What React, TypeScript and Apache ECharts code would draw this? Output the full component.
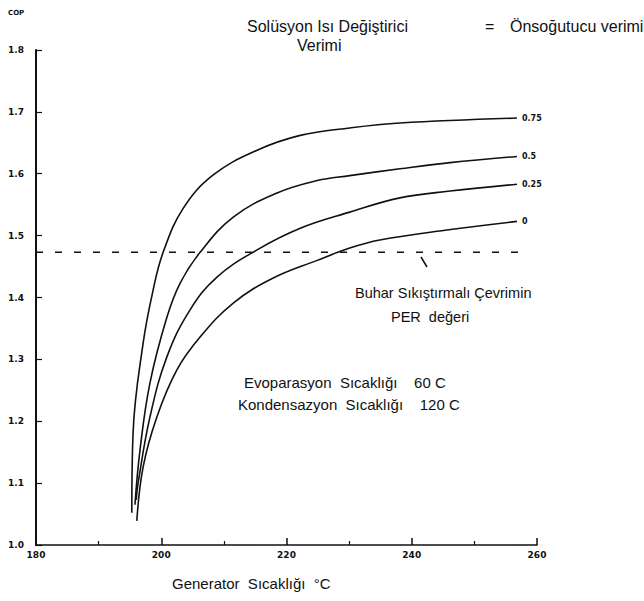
import React, { useEffect, useRef } from "react";
import * as echarts from "echarts";

// Generator temperature (°C) and PER values
const curveNames = ["0.75", "0.5", "0.25", "0"];

const curve075X = [195.3, 195.5, 197.1, 198.7, 200.3, 203.5, 208.3, 215.3, 222.2, 230.1, 238.1, 256.8];
const curve075Y = [1.052, 1.181, 1.326, 1.412, 1.473, 1.544, 1.598, 1.638, 1.662, 1.674, 1.682, 1.690];

const curve05X = [195.8, 196.6, 198.2, 200.9, 203.0, 206.2, 211.5, 218.5, 224.9, 230.1, 238.1, 246.1, 256.8];
const curve05Y = [1.065, 1.153, 1.262, 1.368, 1.423, 1.473, 1.530, 1.569, 1.589, 1.597, 1.608, 1.618, 1.628];

const curve025X = [196.0, 196.3, 198.2, 200.9, 204.6, 208.9, 215.3, 222.2, 230.1, 238.1, 246.1, 256.8];
const curve025Y = [1.073, 1.100, 1.207, 1.304, 1.380, 1.433, 1.477, 1.512, 1.538, 1.561, 1.572, 1.583];

const curve0X = [196.1, 197.1, 199.3, 202.5, 206.2, 211.5, 217.8, 224.9, 230.1, 234.9, 245.6, 256.8];
const curve0Y = [1.039, 1.126, 1.207, 1.283, 1.336, 1.391, 1.431, 1.460, 1.480, 1.493, 1.509, 1.523];

// Vapour compression cycle PER value (dashed reference)
const perLineX = [180, 258];
const perValue = 1.473;

const xMin = 180;
const xMax = 260;
const xInterval = 20;
const yMin = 1.0;
const yMax = 1.8;
const yInterval = 0.1;

const zip = (xs: number[], ys: number[]) => xs.map((x, i) => [x, ys[i]]);

export default function App() {
  const ref = useRef<HTMLDivElement>(null);

  useEffect(() => {
    if (!ref.current) return;
    const chart = echarts.init(ref.current, null, { renderer: "svg" });
    const ink = "#111";
    const tickFont = {
      color: ink,
      fontFamily: "DejaVu Sans",
      fontSize: 9,
      fontWeight: "bold" as const,
    };
    const curves = [
      zip(curve075X, curve075Y),
      zip(curve05X, curve05Y),
      zip(curve025X, curve025Y),
      zip(curve0X, curve0Y),
    ];
    const textFont = "Liberation Sans";
    chart.setOption({
      animation: false,
      backgroundColor: "#fff",
      grid: { left: 36, right: 107, top: 50, bottom: 56, containLabel: false },
      xAxis: {
        type: "value",
        min: xMin,
        max: xMax,
        interval: xInterval,
        axisLine: { show: true, onZero: false, lineStyle: { color: ink, width: 1.5 } },
        axisTick: { show: true, inside: true, length: 7, lineStyle: { color: ink, width: 1.5 } },
        minorTick: { show: true, splitNumber: 2, length: 4, lineStyle: { color: ink, width: 1.2 } },
        splitLine: { show: false },
        axisLabel: { ...tickFont, margin: 5 },
      },
      yAxis: {
        type: "value",
        min: yMin,
        max: yMax,
        interval: yInterval,
        axisLine: { show: true, onZero: false, lineStyle: { color: ink, width: 2 } },
        axisTick: { show: true, inside: true, length: 6, lineStyle: { color: ink, width: 1.2 } },
        splitLine: { show: false },
        axisLabel: { ...tickFont, margin: 12, formatter: (v: number) => v.toFixed(1) },
      },
      series: [
        ...curves.map((data, i) => ({
          type: "line",
          name: curveNames[i],
          data,
          smooth: 0.4,
          symbol: "none",
          lineStyle: { color: ink, width: 1.6 },
          endLabel: {
            show: true,
            formatter: curveNames[i],
            distance: 5,
            color: ink,
            fontFamily: "DejaVu Sans",
            fontSize: 8,
            fontWeight: "bold",
          },
        })),
        {
          type: "line",
          name: "PER",
          data: perLineX.map((x) => [x, perValue]),
          symbol: "none",
          lineStyle: { color: ink, width: 1.5, type: [7, 12] },
        },
      ],
      graphic: [
        { type: "text", left: 8, top: 9, style: { text: "COP", fill: ink, font: "bold 7px DejaVu Sans" } },
        {
          type: "text", left: 247, top: 18,
          style: { text: "Solüsyon Isı Değiştirici", fill: ink, font: `16px ${textFont}` },
        },
        { type: "text", left: 297, top: 37, style: { text: "Verimi", fill: ink, font: `16px ${textFont}` } },
        { type: "text", left: 485, top: 18, style: { text: "=", fill: ink, font: `16px ${textFont}` } },
        {
          type: "text", left: 510, top: 18,
          style: { text: "Önsoğutucu verimi", fill: ink, font: `16px ${textFont}` },
        },
        {
          type: "line",
          shape: { x1: 421, y1: 257, x2: 427, y2: 267 },
          style: { stroke: ink, lineWidth: 1.5 },
        },
        {
          type: "text", left: 355, top: 285,
          style: { text: "Buhar Sıkıştırmalı Çevrimin", fill: ink, font: `14.5px ${textFont}` },
        },
        { type: "text", left: 391, top: 309, style: { text: "PER  değeri", fill: ink, font: `14.5px ${textFont}` } },
        {
          type: "text", left: 244, top: 375,
          style: { text: "Evoparasyon  Sıcaklığı    60 C", fill: ink, font: `15px ${textFont}` },
        },
        {
          type: "text", left: 238, top: 397,
          style: { text: "Kondensazyon  Sıcaklığı    120 C", fill: ink, font: `15px ${textFont}` },
        },
        {
          type: "text", left: 172, top: 576,
          style: { text: "Generator  Sıcaklığı  °C", fill: ink, font: `15px ${textFont}` },
        },
      ],
    });
    return () => chart.dispose();
  }, []);

  return (
    <div
      ref={ref}
      style={{ position: "fixed", left: 0, top: 0, width: 644, height: 601, background: "#fff" }}
    />
  );
}
